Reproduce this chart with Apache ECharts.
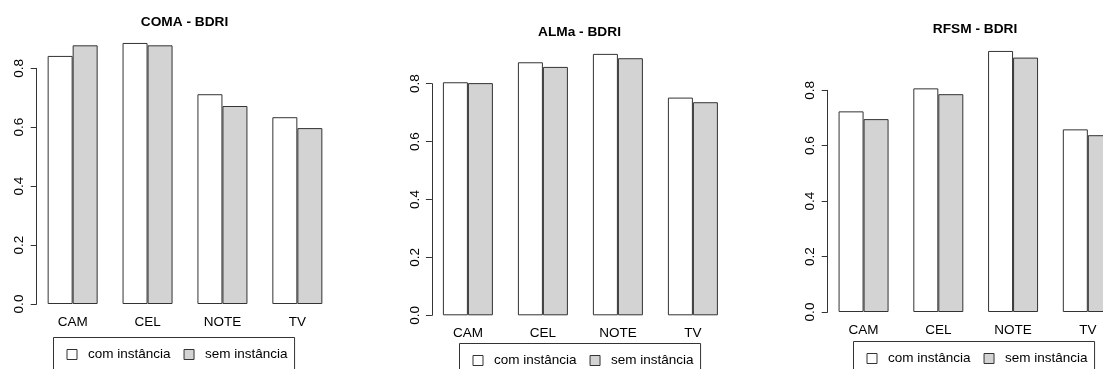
<!DOCTYPE html>
<html>
<head>
<meta charset="utf-8">
<script src="https://cdn.jsdelivr.net/npm/echarts@6/dist/echarts.min.js"></script>
<style>
  html, body { margin: 0; padding: 0; background: #ffffff; }
  #chart { width: 1103px; height: 369px; }
</style>
</head>
<body>
<div id="chart"></div>
<script>
// BDRI scores per device category, with and without instances
const categories = ['CAM', 'CEL', 'NOTE', 'TV'];
const seriesNames = ['com instância', 'sem instância'];
const panelTitles = ['COMA - BDRI', 'ALMa - BDRI', 'RFSM - BDRI'];

const comaCom = [0.842, 0.886, 0.712, 0.634];
const comaSem = [0.878, 0.878, 0.672, 0.597];
const almaCom = [0.805, 0.874, 0.903, 0.752];
const almaSem = [0.802, 0.858, 0.888, 0.736];
const rfsmCom = [0.724, 0.807, 0.942, 0.659];
const rfsmSem = [0.696, 0.786, 0.918, 0.638];

const yMin = 0;
const yMax = 0.8;
const yStep = 0.2;

const panelValues = [
  [comaCom, comaSem],
  [almaCom, almaSem],
  [rfsmCom, rfsmSem]
];

// Panel geometry (pixels); the third panel runs past the right edge of the canvas
const layout = [
  { left: 35.2,  top: 68.3, width: 299.6, height: 235.7, titleX: 184.5, titleY: 14.0, legLeft: 53.5,  legTop: 337.5 },
  { left: 430.4, top: 83.7, width: 300.0, height: 231.6, titleX: 579.5, titleY: 24.3, legLeft: 459.5, legTop: 343.5 },
  { left: 826.2, top: 90.3, width: 299.0, height: 221.7, titleX: 975.0, titleY: 21.3, legLeft: 853.5, legTop: 341.5 }
];

const FONT = 'Liberation Sans, Arial, sans-serif';
const INK = '#333333';
const fills = ['#ffffff', '#d3d3d3'];

const grids = [], xAxes = [], yAxes = [], series = [], titles = [], legends = [];

layout.forEach((p, i) => {
  grids.push({
    left: p.left,
    top: p.top,
    width: p.width,
    height: p.height,
    containLabel: false,
    outerBoundsMode: 'none'
  });

  xAxes.push({
    type: 'category',
    gridIndex: i,
    data: categories,
    axisLine: { show: false },
    axisTick: { show: false },
    axisLabel: { margin: 11, fontSize: 13.5, fontFamily: FONT, color: '#000' }
  });

  yAxes.push({
    type: 'value',
    gridIndex: i,
    min: yMin,
    max: yMax,
    interval: yStep,
    offset: -1.5,
    axisLine: { show: true, lineStyle: { color: INK, width: 1 } },
    axisTick: { show: true, length: 6, lineStyle: { color: INK, width: 1 } },
    splitLine: { show: false },
    axisLabel: {
      rotate: 90,
      margin: 10,
      fontSize: 13.5,
      fontFamily: FONT,
      color: '#000',
      formatter: v => v.toFixed(1)
    }
  });

  seriesNames.forEach((name, k) => {
    series.push({
      type: 'bar',
      name: name,
      xAxisIndex: i,
      yAxisIndex: i,
      data: panelValues[i][k],
      barWidth: 25,
      barGap: '0%',
      clip: false,
      silent: true,
      itemStyle: { color: fills[k], borderColor: INK, borderWidth: 1 }
    });
  });

  titles.push({
    text: panelTitles[i],
    left: p.titleX,
    top: p.titleY,
    textAlign: 'center',
    padding: 0,
    textStyle: { fontSize: 13.7, fontWeight: 'bold', fontFamily: FONT, color: '#000', lineHeight: 16 }
  });

  legends.push({
    data: seriesNames,
    left: p.legLeft,
    top: p.legTop,
    orient: 'horizontal',
    icon: 'rect',
    itemWidth: 10,
    itemHeight: 10,
    itemGap: 13,
    padding: [10, 7, 30, 13],
    borderColor: INK,
    borderWidth: 1,
    selectedMode: false,
    itemStyle: { borderColor: INK, borderWidth: 1 },
    textStyle: { fontSize: 13.5, fontFamily: FONT, color: '#000', lineHeight: 14, padding: [0, 0, 0, 6] }
  });
});

const chart = echarts.init(document.getElementById('chart'), null, { renderer: 'canvas' });
chart.setOption({
  animation: false,
  backgroundColor: '#ffffff',
  title: titles,
  legend: legends,
  grid: grids,
  xAxis: xAxes,
  yAxis: yAxes,
  series: series
});
</script>
</body>
</html>
